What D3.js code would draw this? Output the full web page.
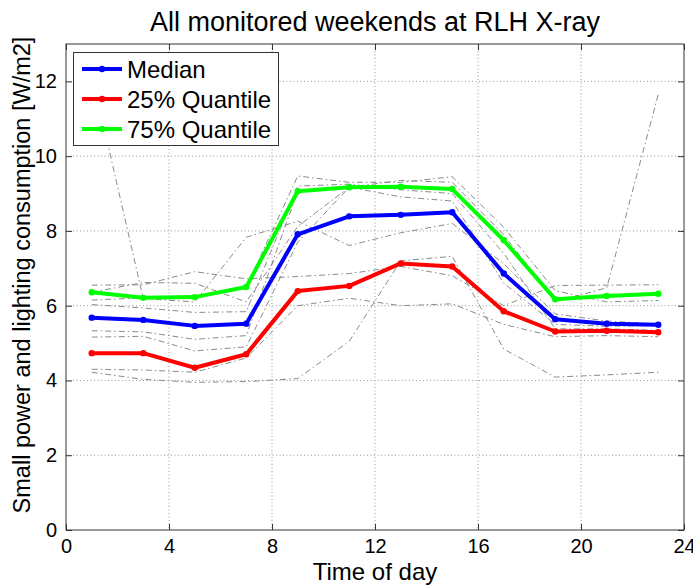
<!DOCTYPE html>
<html><head><meta charset="utf-8">
<script src="https://cdn.jsdelivr.net/npm/d3@7"></script>
<style>body{margin:0;background:#fff}svg{display:block}text{font-family:"Liberation Sans",Arial,sans-serif;fill:#000}</style>
</head><body><svg id="c" width="693" height="585"></svg>
<script>
const hours = [1,3,5,7,9,11,13,15,17,19,21,23];
const median = [5.68,5.62,5.46,5.52,7.91,8.39,8.43,8.50,6.86,5.64,5.52,5.49];
const q25 = [4.73,4.73,4.34,4.70,6.39,6.53,7.13,7.05,5.85,5.31,5.33,5.29];
const q75 = [6.36,6.21,6.23,6.50,9.06,9.17,9.18,9.12,7.75,6.17,6.26,6.32];
const weekends = [
  [4.22,4.03,3.95,3.97,4.05,5.05,7.20,7.32,4.84,4.09,4.15,4.22],
  [4.30,4.28,4.22,4.60,6.00,6.20,6.00,6.05,5.50,5.17,5.20,5.17],
  [4.73,4.73,4.34,4.70,6.39,6.53,7.13,7.05,5.85,5.31,5.33,5.29],
  [6.55,6.56,6.91,6.72,6.78,6.86,7.05,6.80,6.00,6.54,6.55,6.56],
  [12.2,6.19,6.10,7.83,8.26,7.61,7.95,8.20,7.12,5.78,5.59,5.51],
  [5.16,5.18,4.79,4.90,7.70,9.17,8.91,8.80,6.60,5.50,5.45,5.47],
  [5.33,5.30,5.10,5.20,9.06,9.17,9.18,9.12,7.75,6.17,6.26,6.32],
  [6.03,5.94,5.82,5.84,9.20,9.25,9.10,9.00,7.40,5.38,5.38,5.34],
  [6.15,6.21,6.23,6.50,9.47,9.30,9.30,9.45,8.10,6.40,6.10,6.14],
  [6.36,6.62,6.60,6.10,8.12,9.17,9.35,9.30,7.90,6.10,6.48,11.65]
];
const xTicks = [0,4,8,12,16,20,24];
const yTicks = [0,2,4,6,8,10,12];
const seriesNames = ["Median","25% Quantile","75% Quantile"];
const seriesColors = ["#0000ff","#ff0000","#00ff00"];
const titleText = "All monitored weekends at RLH X-ray";
const xLabel = "Time of day";
const yLabel = "Small power and lighting consumption [W/m2]";

const svg = d3.select("#c");
const L=66,R=684,T=44,B=530;
const x = d3.scaleLinear().domain([0,24]).range([L,R]);
const y = d3.scaleLinear().domain([0,13]).range([B,T]);

// grid
const g = svg.append("g");
g.selectAll(".gx").data(xTicks.slice(1,-1)).join("line")
  .attr("x1",d=>x(d)).attr("x2",d=>x(d)).attr("y1",T).attr("y2",B)
  .attr("stroke","#999").attr("stroke-width",1).attr("stroke-dasharray","1,2.5");
g.selectAll(".gy").data(yTicks.slice(1)).join("line")
  .attr("y1",d=>y(d)).attr("y2",d=>y(d)).attr("x1",L).attr("x2",R)
  .attr("stroke","#999").attr("stroke-width",1).attr("stroke-dasharray","1,2.5");

// axes
const ax = d3.axisBottom(x).tickValues(xTicks).tickSizeInner(-6).tickSizeOuter(0).tickPadding(9);
const axT = d3.axisTop(x).tickValues(xTicks).tickSizeInner(-6).tickSizeOuter(0).tickFormat("");
const ay = d3.axisLeft(y).tickValues(yTicks).tickSizeInner(-6).tickSizeOuter(0).tickPadding(9);
const ayR = d3.axisRight(y).tickValues(yTicks).tickSizeInner(-6).tickSizeOuter(0).tickFormat("");
function style(sel){sel.select(".domain").remove();sel.selectAll("line").attr("stroke","#333");sel.selectAll("text").style("font-size","20px").style("font-family","Liberation Sans, Arial, sans-serif").attr("fill","#000");}
svg.append("g").attr("transform",`translate(0,${B})`).call(ax).call(style);
svg.append("g").attr("transform",`translate(0,${T})`).call(axT).call(style);
svg.append("g").attr("transform",`translate(${L},0)`).call(ay).call(style);
svg.append("g").attr("transform",`translate(${R},0)`).call(ayR).call(style);

const line = d3.line().x((d,i)=>x(hours[i])).y(d=>y(d));
// weekends
svg.append("g").selectAll("path").data(weekends).join("path")
  .attr("d",line).attr("fill","none").attr("stroke","#8a8a8a").attr("stroke-width",1)
  .attr("stroke-dasharray","6,3,1.5,3");

const series = [median,q25,q75];
series.forEach((s,k)=>{
  const gg = svg.append("g");
  gg.append("path").attr("d",line(s)).attr("fill","none").attr("stroke",seriesColors[k])
    .attr("stroke-width",4).attr("stroke-linejoin","round");
  gg.selectAll("circle").data(s).join("circle").attr("cx",(d,i)=>x(hours[i])).attr("cy",d=>y(d))
    .attr("r",3.2).attr("fill",seriesColors[k]);
});

// box
svg.append("rect").attr("x",L).attr("y",T).attr("width",R-L).attr("height",B-T)
  .attr("fill","none").attr("stroke","#333").attr("stroke-width",1);

// legend
const lg = svg.append("g");
lg.append("rect").attr("x",73.5).attr("y",52.5).attr("width",205).attr("height",93)
  .attr("fill","#fff").attr("stroke","#333").attr("stroke-width",1);
seriesNames.forEach((n,k)=>{
  const yy = 69 + k*30;
  lg.append("line").attr("x1",82).attr("x2",122).attr("y1",yy).attr("y2",yy)
    .attr("stroke",seriesColors[k]).attr("stroke-width",4);
  lg.append("circle").attr("cx",102).attr("cy",yy).attr("r",3.2).attr("fill",seriesColors[k]);
  lg.append("text").attr("x",127).attr("y",yy+8.5).style("font-size","24px").text(n);
});

svg.append("text").attr("x",375).attr("y",31).attr("text-anchor","middle").style("font-size","27px").text(titleText);
svg.append("text").attr("x",375).attr("y",580).attr("text-anchor","middle").style("font-size","24px").text(xLabel);
svg.append("text").attr("transform","translate(30,275) rotate(-90)").attr("text-anchor","middle").style("font-size","23.5px").text(yLabel);
</script></body></html>
